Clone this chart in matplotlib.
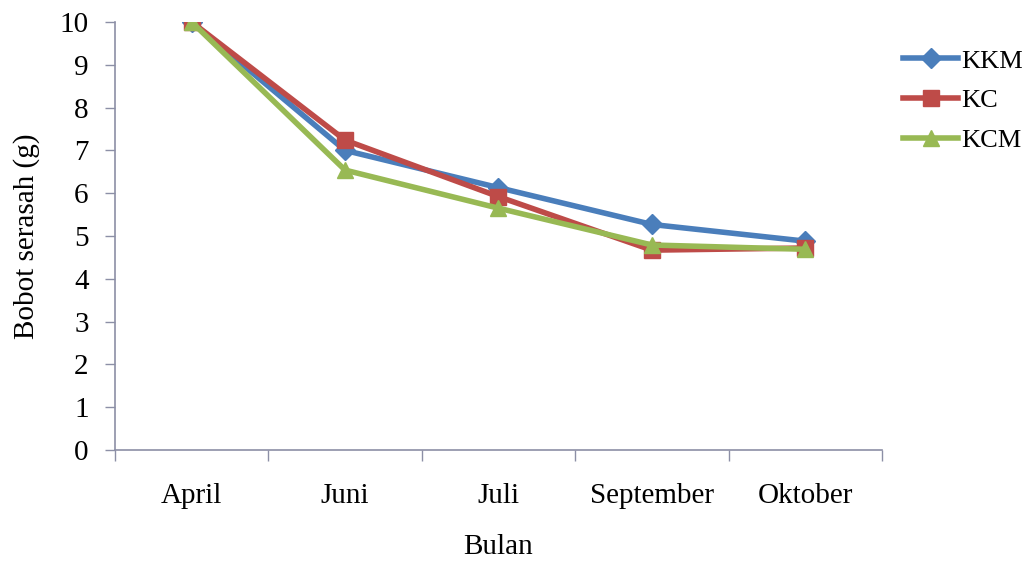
import matplotlib
matplotlib.use("Agg")
import matplotlib.pyplot as plt
from matplotlib.ticker import FixedLocator, NullFormatter

plt.rcParams["font.family"] = ["Liberation Serif", "DejaVu Serif"]

bulan = ["April", "Juni", "Juli", "September", "Oktober"]
kkm = [10.0, 7.0, 6.13, 5.27, 4.88]
kc = [10.0, 7.24, 5.92, 4.67, 4.72]
kcm = [10.0, 6.54, 5.65, 4.79, 4.69]

axis_grey = "#8c8fa6"

fig = plt.figure(figsize=(10.33, 5.67), dpi=100)
ax = fig.add_axes([0.1113, 0.2063, 0.7425, 0.7549])

x = list(range(len(bulan)))
ax.plot(x, kkm, color="#4a7ebb", lw=4, marker="D", ms=10, label="KKM")
ax.plot(x, kc, color="#be4b48", lw=4, marker="s", ms=11, label="KC")
ax.plot(x, kcm, color="#98b954", lw=4, marker="^", ms=11, label="KCM")

ax.set_xlim(-0.5, len(bulan) - 0.5)
ax.set_ylim(0, 10)
ax.set_yticks(range(0, 11))

# separators between months as major ticks, month names on minor ticks
ax.xaxis.set_major_locator(FixedLocator([i - 0.5 for i in range(len(bulan) + 1)]))
ax.xaxis.set_major_formatter(NullFormatter())
ax.xaxis.set_minor_locator(FixedLocator(x))
ax.set_xticklabels(bulan, minor=True)
ax.tick_params(axis="x", which="major", length=8, width=1, color=axis_grey, direction="out")
ax.tick_params(axis="x", which="minor", length=0, pad=24, labelsize=21)
ax.tick_params(axis="y", length=7, width=1, color=axis_grey, pad=12, labelsize=21)

for side in ["top", "right"]:
    ax.spines[side].set_visible(False)
for side in ["left", "bottom"]:
    ax.spines[side].set_color(axis_grey)
    ax.spines[side].set_linewidth(1.2)

ax.set_xlabel("Bulan", fontsize=21, labelpad=18)
ax.set_ylabel("Bobot serasah (g)", fontsize=21, labelpad=14)

fig.legend(loc="upper left", bbox_to_anchor=(0.864, 0.932), frameon=False,
           fontsize=19, handlelength=2.1, handletextpad=0.1, labelspacing=0.62,
           borderaxespad=0)

fig.savefig("out.png", dpi=100)
